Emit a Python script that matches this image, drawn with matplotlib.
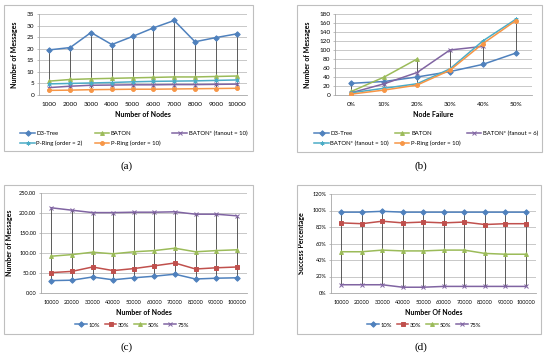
import numpy as np
import matplotlib
matplotlib.use("Agg")
import matplotlib.pyplot as plt
from matplotlib.patches import Rectangle
from matplotlib.ticker import FuncFormatter

# ------------------------------------------------
# Data
# ------------------------------------------------
nodes_a = ["1000", "2000", "3000", "4000", "5000", "6000", "7000", "8000", "9000", "10000"]
a_d3tree = [19.5, 20.5, 27.0, 21.8, 25.3, 29.0, 32.2, 23.0, 24.8, 26.4]
a_baton = [6.0, 6.7, 7.0, 7.2, 7.4, 7.6, 7.8, 7.8, 8.0, 8.2]
a_baton_star10 = [3.2, 3.8, 4.2, 4.3, 4.4, 4.4, 4.5, 4.5, 4.6, 4.7]
a_pring2 = [4.8, 5.0, 5.2, 5.4, 5.7, 5.9, 6.0, 6.1, 6.3, 6.5]
a_pring10 = [2.0, 2.1, 2.3, 2.4, 2.5, 2.5, 2.6, 2.7, 2.8, 2.9]

failure_b = ["0%", "10%", "20%", "30%", "40%", "50%"]
b_d3tree = [26, 30, 40, 52, 68, 93]
b_baton = [8, 40, 80, np.nan, np.nan, np.nan]
b_baton_star6 = [5, 25, 50, 100, 108, np.nan]
b_baton_star10 = [5, 15, 25, 58, 120, 168]
b_pring10 = [2, 11, 22, 55, 114, 165]

nodes_cd = ["10000", "20000", "30000", "40000", "50000", "60000", "70000", "80000", "90000", "100000"]
c_10 = [31, 32, 40, 33, 38, 42, 47, 35, 37, 38]
c_30 = [51, 54, 65, 56, 61, 68, 75, 60, 63, 65]
c_50 = [92, 96, 102, 98, 103, 106, 112, 103, 106, 108]
c_75 = [213, 207, 201, 201, 202, 202, 203, 197, 197, 193]

d_10 = [98, 98, 99, 98, 98, 98, 98, 98, 98, 98]
d_30 = [85, 84, 87, 85, 86, 85, 86, 83, 84, 84]
d_50 = [50, 50, 52, 51, 51, 52, 52, 48, 47, 47]
d_75 = [10, 10, 10, 7, 7, 8, 8, 8, 8, 8]

# Excel 2007 palette
BLUE = "#4F81BD"
RED = "#C0504D"
GREEN = "#9BBB59"
PURPLE = "#8064A2"
AQUA = "#4BACC6"
ORANGE = "#F79646"
ASTER = (6, 2, 0)

plt.rcParams['font.family'] = ['Lato', 'DejaVu Sans']

W, H = 550, 361
fig = plt.figure(figsize=(W / 100, H / 100), dpi=100)


def ax_at(l, t, r, b):
    return fig.add_axes([l / W, 1 - b / H, (r - l) / W, (b - t) / H])


def box_at(l, t, r, b):
    fig.patches.append(Rectangle((l / W, 1 - b / H), (r - l) / W, (b - t) / H,
                                 transform=fig.transFigure, fill=False,
                                 edgecolor="#BFBFBF", lw=0.8))


def style_axes(ax, cats, ymax, ystep, fs):
    n = len(cats)
    ax.set_xlim(-0.5, n - 0.5)
    ax.set_ylim(0, ymax)
    ax.set_yticks(np.arange(0, ymax + ystep / 2, ystep))
    ax.set_xticks(range(n))
    ax.set_xticklabels(cats)
    ax.yaxis.grid(True, color="#BFBFBF", lw=0.6)
    ax.set_axisbelow(True)
    for s in ["top", "right"]:
        ax.spines[s].set_visible(False)
    for s in ["left", "bottom"]:
        ax.spines[s].set_color("#A6A6A6")
        ax.spines[s].set_linewidth(0.6)
    ax.tick_params(labelsize=fs, length=1.5, width=0.5, color="#A6A6A6", pad=2)
    ax.tick_params(axis="x", length=0, pad=5)


def high_low(ax, series):
    arr = np.array(series, dtype=float)
    x = np.arange(arr.shape[1])
    ax.vlines(x, np.nanmin(arr, axis=0), np.nanmax(arr, axis=0),
              color="#404040", lw=0.6, zorder=1)


def draw(ax, vals, color, marker, label):
    x = np.arange(len(vals))
    ax.plot(x, vals, color=color, marker=marker, markersize=2.8, lw=1.1,
            markeredgewidth=0.7, label=label, zorder=3)


leg_kw = dict(frameon=False, handletextpad=0.3, labelspacing=0.8)
lab_kw = dict(fontsize=5, fontweight="bold")

# -----------------------------
# (a)
# -----------------------------
box_at(4, 5, 253, 151)
ax = ax_at(39, 14, 247, 95)
style_axes(ax, nodes_a, 35, 5, 4.6)
high_low(ax, [a_d3tree, a_baton, a_baton_star10, a_pring2, a_pring10])
draw(ax, a_d3tree, BLUE, "D", "D3-Tree")
draw(ax, a_baton, GREEN, "^", "BATON")
draw(ax, a_baton_star10, PURPLE, "x", "BATON* (fanout = 10)")
draw(ax, a_pring2, AQUA, ASTER, "P-Ring (order = 2)")
draw(ax, a_pring10, ORANGE, "o", "P-Ring (order = 10)")
ax.set_xlabel("Number of Nodes", labelpad=3, **lab_kw)
ax.set_ylabel("Number of Messages", labelpad=6, **lab_kw)
h, l = ax.get_legend_handles_labels()
order = [0, 3, 1, 4, 2]
ax.legend([h[i] for i in order], [l[i] for i in order], ncol=3,
          loc="upper left", bbox_to_anchor=(15 / W, 1 - 125 / H),
          bbox_transform=fig.transFigure, handlelength=2.4, fontsize=4.3,
          columnspacing=2.0, **leg_kw)
fig.text(127 / W, 1 - 166 / H, "(a)", fontsize=8, family="Liberation Serif",
         ha="center", va="center")

# -----------------------------
# (b)
# -----------------------------
box_at(297, 5, 542, 152)
ax = ax_at(335, 14, 532, 95)
style_axes(ax, failure_b, 180, 20, 4.6)
high_low(ax, [b_d3tree, b_baton, b_baton_star6, b_baton_star10, b_pring10])
draw(ax, b_d3tree, BLUE, "D", "D3-Tree")
draw(ax, b_baton, GREEN, "^", "BATON")
draw(ax, b_baton_star6, PURPLE, "x", "BATON* (fanout = 6)")
draw(ax, b_baton_star10, AQUA, ASTER, "BATON* (fanout = 10)")
draw(ax, b_pring10, ORANGE, "o", "P-Ring (order = 10)")
ax.set_xlabel("Node Failure", labelpad=3, **lab_kw)
ax.set_ylabel("Number of Messages", labelpad=6, **lab_kw)
h, l = ax.get_legend_handles_labels()
ax.legend([h[i] for i in order], [l[i] for i in order], ncol=3,
          loc="upper left", bbox_to_anchor=(309 / W, 1 - 125 / H),
          bbox_transform=fig.transFigure, handlelength=2.4, fontsize=4.3,
          columnspacing=1.0, **leg_kw)
fig.text(421 / W, 1 - 166 / H, "(b)", fontsize=8, family="Liberation Serif",
         ha="center", va="center")

# -----------------------------
# (c)
# -----------------------------
box_at(4, 185, 253, 334)
ax = ax_at(41, 193, 247, 293)
style_axes(ax, nodes_cd, 250, 50, 4.0)
ax.yaxis.set_major_formatter(FuncFormatter(lambda v, p: f"{v:.2f}"))
high_low(ax, [c_10, c_30, c_50, c_75])
draw(ax, c_10, BLUE, "D", "10%")
draw(ax, c_30, RED, "s", "30%")
draw(ax, c_50, GREEN, "^", "50%")
draw(ax, c_75, PURPLE, "x", "75%")
ax.set_xlabel("Number of Nodes", labelpad=3, **lab_kw)
ax.set_ylabel("Number of Messages", labelpad=4, **lab_kw)
ax.legend(ncol=4, loc="center", bbox_to_anchor=(132 / W, 1 - 325 / H),
          bbox_transform=fig.transFigure, handlelength=2.0, fontsize=4.2,
          columnspacing=0.8, **leg_kw)
fig.text(127 / W, 1 - 347 / H, "(c)", fontsize=8, family="Liberation Serif",
         ha="center", va="center")

# -----------------------------
# (d)
# -----------------------------
box_at(297, 185, 541, 334)
ax = ax_at(331, 194, 536, 293)
style_axes(ax, nodes_cd, 120, 20, 4.0)
ax.yaxis.set_major_formatter(FuncFormatter(lambda v, p: f"{v:.0f}%"))
high_low(ax, [d_10, d_30, d_50, d_75])
draw(ax, d_10, BLUE, "D", "10%")
draw(ax, d_30, RED, "s", "30%")
draw(ax, d_50, GREEN, "^", "50%")
draw(ax, d_75, PURPLE, "x", "75%")
ax.set_xlabel("Number Of Nodes", labelpad=3, **lab_kw)
ax.set_ylabel("Success Percentage", labelpad=5, **lab_kw)
ax.legend(ncol=4, loc="center", bbox_to_anchor=(424 / W, 1 - 325 / H),
          bbox_transform=fig.transFigure, handlelength=2.0, fontsize=4.2,
          columnspacing=0.8, **leg_kw)
fig.text(421 / W, 1 - 347 / H, "(d)", fontsize=8, family="Liberation Serif",
         ha="center", va="center")

fig.savefig("out.png", dpi=100)
